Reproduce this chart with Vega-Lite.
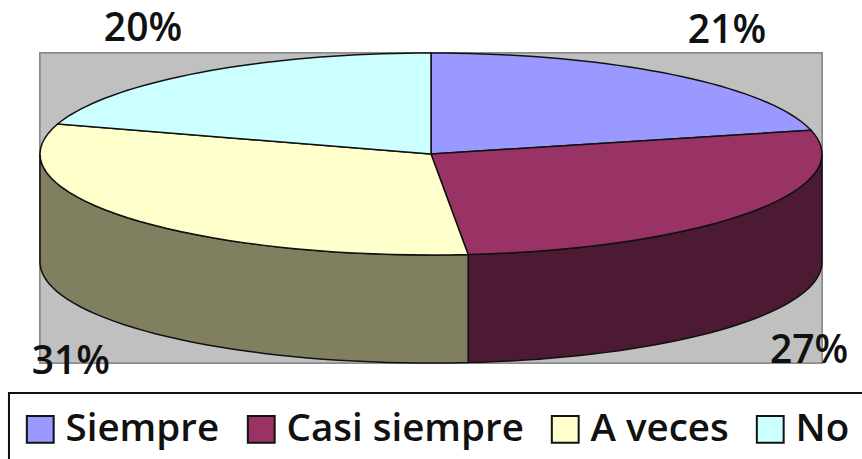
{"$schema":"https://vega.github.io/schema/vega-lite/v6.json","width":862,"height":459,"padding":0,"autosize":{"type":"none"},"background":"white","view":{"stroke":null},"config":{"text":{"font":"Open Sans","fontWeight":600,"fontSize":39,"color":"#111"}},"datasets":{"slices":[{"slice":"Siempre","value":21,"rank":1},{"slice":"Casi siempre","value":27,"rank":2},{"slice":"A veces","value":31,"rank":3},{"slice":"No","value":20,"rank":4}]},"data":{"name":"slices"},"resolve":{"scale":{"fill":"independent"}},"transform":[{"joinaggregate":[{"op":"sum","field":"value","as":"total"}]},{"window":[{"op":"sum","field":"value","as":"cum"}],"sort":[{"field":"rank"}]},{"calculate":"2*PI*(datum.cum-datum.value)/datum.total","as":"a0"},{"calculate":"2*PI*datum.cum/datum.total","as":"a1"}],"encoding":{"x":{"type":"quantitative","scale":{"domain":[-1.1023,1.1023],"range":[0,862],"nice":false,"zero":false},"axis":null},"y":{"type":"quantitative","scale":{"domain":[-3.02,1.525],"range":[459,0],"nice":false,"zero":false},"axis":null}},"layer":[{"mark":{"type":"rect","fill":"#c0c0c0","stroke":"#8c8c8c","strokeWidth":1.5},"encoding":{"x":{"datum":-1.0},"x2":{"datum":1.0},"y":{"datum":1.0},"y2":{"datum":-2.07}}},{"mark":{"type":"rect","fill":"white","stroke":"#111","strokeWidth":2,"clip":false},"encoding":{"x":{"datum":-1.0793},"x2":{"datum":1.2},"y":{"datum":-2.366},"y2":{"datum":-3.3}}},{"transform":[{"calculate":"max(datum.a0,PI/2)","as":"w0"},{"calculate":"min(datum.a1,3*PI/2)","as":"w1"},{"filter":"datum.w1>datum.w0"},{"calculate":"[0,0.025,0.05,0.075,0.1,0.125,0.15,0.175,0.2,0.225,0.25,0.275,0.3,0.325,0.35,0.375,0.4,0.425,0.45,0.475,0.5,0.525,0.55,0.575,0.6,0.625,0.65,0.675,0.7,0.725,0.75,0.775,0.8,0.825,0.85,0.875,0.9,0.925,0.95,0.975,1]","as":"t"},{"flatten":["t"]},{"calculate":"datum.w0+datum.t*(datum.w1-datum.w0)","as":"th"},{"calculate":"sin(datum.th)","as":"px"},{"calculate":"cos(datum.th)","as":"py"},{"calculate":"datum.py-1.07","as":"pb"}],"mark":{"type":"area","stroke":"#111","strokeWidth":1.5,"orient":"vertical"},"encoding":{"x":{"field":"px","type":"quantitative"},"y":{"field":"py","type":"quantitative"},"y2":{"field":"pb"},"detail":{"field":"slice"},"fill":{"field":"slice","type":"nominal","scale":{"domain":["Casi siempre","A veces"],"range":["#4d1a33","#808060"]},"legend":null}}},{"transform":[{"calculate":"[-1,0,0.025,0.05,0.075,0.1,0.125,0.15,0.175,0.2,0.225,0.25,0.275,0.3,0.325,0.35,0.375,0.4,0.425,0.45,0.475,0.5,0.525,0.55,0.575,0.6,0.625,0.65,0.675,0.7,0.725,0.75,0.775,0.8,0.825,0.85,0.875,0.9,0.925,0.95,0.975,1,2]","as":"t"},{"flatten":["t"]},{"calculate":"datum.a0+datum.t*(datum.a1-datum.a0)","as":"th"},{"calculate":"(datum.t<0||datum.t>1)?0:sin(datum.th)","as":"px"},{"calculate":"(datum.t<0||datum.t>1)?0:cos(datum.th)","as":"py"}],"mark":{"type":"line","filled":true,"stroke":"#111","strokeWidth":1.5},"encoding":{"x":{"field":"px","type":"quantitative"},"y":{"field":"py","type":"quantitative"},"order":{"field":"t","type":"quantitative"},"detail":{"field":"slice"},"fill":{"field":"slice","type":"nominal","scale":{"domain":["Siempre","Casi siempre","A veces","No"],"range":["#9999ff","#993366","#ffffcc","#ccffff"]},"legend":{"title":null,"orient":"none","legendX":4,"legendY":393,"direction":"horizontal","columns":4,"symbolType":"square","symbolSize":720,"symbolStrokeColor":"#111","symbolStrokeWidth":2,"labelFont":"Open Sans","labelFontWeight":600,"labelFontSize":38.5,"labelColor":"#111","labelLimit":400,"labelOffset":6,"columnPadding":22,"padding":17,"cornerRadius":0,"offset":0}}}},{"data":{"values":[{"pct":"21%"}]},"transform":[],"mark":{"type":"text"},"encoding":{"x":{"datum":0.757},"y":{"datum":1.218},"text":{"field":"pct"}}},{"data":{"values":[{"pct":"20%"}]},"transform":[],"mark":{"type":"text"},"encoding":{"x":{"datum":-0.7366},"y":{"datum":1.238},"text":{"field":"pct"}}},{"data":{"values":[{"pct":"27%"}]},"transform":[],"mark":{"type":"text"},"encoding":{"x":{"datum":0.967},"y":{"datum":-1.95},"text":{"field":"pct"}}},{"data":{"values":[{"pct":"31%"}]},"transform":[],"mark":{"type":"text"},"encoding":{"x":{"datum":-0.921},"y":{"datum":-2.06},"text":{"field":"pct"}}}]}
